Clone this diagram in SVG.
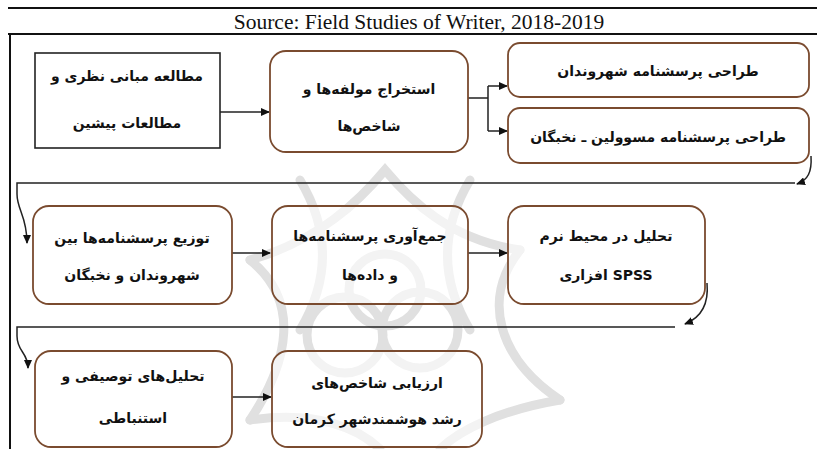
<svg xmlns="http://www.w3.org/2000/svg" width="817" height="449" viewBox="0 0 817 449">
<style>
.frame{stroke:#111;stroke-width:2;fill:none}
.box{fill:#fff;fill-opacity:0.6;stroke:#7a4b2f;stroke-width:1.8}
.sq{fill:#fff;stroke:#222;stroke-width:1.6}
.t{font-family:"DejaVu Sans",sans-serif;font-weight:bold;font-size:14px;fill:#111;text-anchor:middle}
.src{font-family:"Liberation Serif",serif;font-size:21.5px;fill:#111;text-anchor:middle}
.c{stroke:#222;stroke-width:1.5;fill:none}
.wm{stroke:#e0e0e0;stroke-width:9;fill:none;stroke-linecap:round}
</style>
<defs>
<marker id="ah" markerWidth="9" markerHeight="8" refX="8" refY="4" orient="auto" markerUnits="userSpaceOnUse">
<path d="M0,0 L9,4 L0,8 Z" fill="#111"/>
</marker>
</defs>
<rect width="817" height="449" fill="#fff"/>
<g id="watermark">
<circle class="wm" cx="345" cy="335" r="38"/>
<circle class="wm" cx="420" cy="330" r="38"/>
<circle class="wm" cx="385" cy="290" r="36"/>
<path class="wm" d="M250,260 C320,240 360,200 385,170 C410,200 450,240 520,250"/>
<path class="wm" d="M250,260 C300,300 290,360 250,420"/>
<path class="wm" d="M520,250 C480,300 500,360 560,400"/>
<path class="wm" d="M250,420 C320,410 360,430 380,449"/>
<path class="wm" d="M560,400 C500,410 460,430 440,449"/>
<path class="wm" d="M300,180 C330,230 330,280 300,330"/>
<path class="wm" d="M470,180 C440,230 440,280 470,330"/>
</g>
<g id="frame">
<line class="frame" x1="8" y1="8" x2="817" y2="8"/>
<line class="frame" x1="8" y1="34" x2="817" y2="34"/>
<line class="frame" x1="10" y1="34" x2="10" y2="449"/>
<text class="src" x="419" y="29">Source: Field Studies of Writer, 2018-2019</text>
</g>
<g id="connectors">
<line class="c" x1="220" y1="112" x2="269" y2="112" marker-end="url(#ah)"/>
<path class="c" d="M468,98 H488 M488,86 V131"/>
<line class="c" x1="488" y1="86" x2="507" y2="86" marker-end="url(#ah)"/>
<line class="c" x1="488" y1="131" x2="507" y2="131" marker-end="url(#ah)"/>
<path class="c" d="M811,156 C812,172 808,180 797,184" marker-end="url(#ah)"/>
<path class="c" d="M795,183 H17 V194 C17,210 27,216 27,243" marker-end="url(#ah)"/>
<line class="c" x1="232" y1="253" x2="270" y2="253" marker-end="url(#ah)"/>
<line class="c" x1="468" y1="253" x2="507" y2="253" marker-end="url(#ah)"/>
<path class="c" d="M707,283 C709,305 700,318 685,324" marker-end="url(#ah)"/>
<path class="c" d="M675,327 H17 V336 C17,352 28,352 28,368" marker-end="url(#ah)"/>
<line class="c" x1="232" y1="397" x2="271" y2="397" marker-end="url(#ah)"/>
</g>
<g id="n1"><rect class="sq" x="35" y="53" width="185" height="95"/>
<text class="t" x="127" y="81">مطالعه مبانی نظری و</text>
<text class="t" x="127" y="128">مطالعات پیشین</text></g>
<g id="n2"><rect class="box" x="270" y="51" width="198" height="101" rx="16"/>
<text class="t" x="369" y="94">استخراج مولفه‌ها و</text>
<text class="t" x="369" y="131">شاخص‌ها</text></g>
<g id="n3"><rect class="box" x="508" y="43" width="301" height="54" rx="12"/>
<text class="t" x="658" y="76">طراحی پرسشنامه شهروندان</text></g>
<g id="n4"><rect class="box" x="508" y="108" width="301" height="55" rx="12"/>
<text class="t" x="658" y="142">طراحی پرسشنامه مسوولین ـ نخبگان</text></g>
<g id="n5"><rect class="box" x="33" y="206" width="199" height="98" rx="16"/>
<text class="t" x="132" y="243">توزیع پرسشنامه‌ها بین</text>
<text class="t" x="132" y="280">شهروندان و نخبگان</text></g>
<g id="n6"><rect class="box" x="272" y="206" width="196" height="98" rx="16"/>
<text class="t" x="370" y="241">جمع‌آوری پرسشنامه‌ها</text>
<text class="t" x="370" y="280">و داده‌ها</text></g>
<g id="n7"><rect class="box" x="508" y="206" width="197" height="98" rx="16"/>
<text class="t" x="606" y="241">تحلیل در محیط نرم</text>
<text class="t" x="606" y="280">افزاری SPSS</text></g>
<g id="n8"><rect class="box" x="35" y="351" width="197" height="96" rx="16"/>
<text class="t" x="133" y="381">تحلیل‌های توصیفی و</text>
<text class="t" x="133" y="423">استنباطی</text></g>
<g id="n9"><rect class="box" x="272" y="351" width="210" height="96" rx="16"/>
<text class="t" x="377" y="388">ارزیابی شاخص‌های</text>
<text class="t" x="377" y="424">رشد هوشمندشهر کرمان</text></g>
</svg>
